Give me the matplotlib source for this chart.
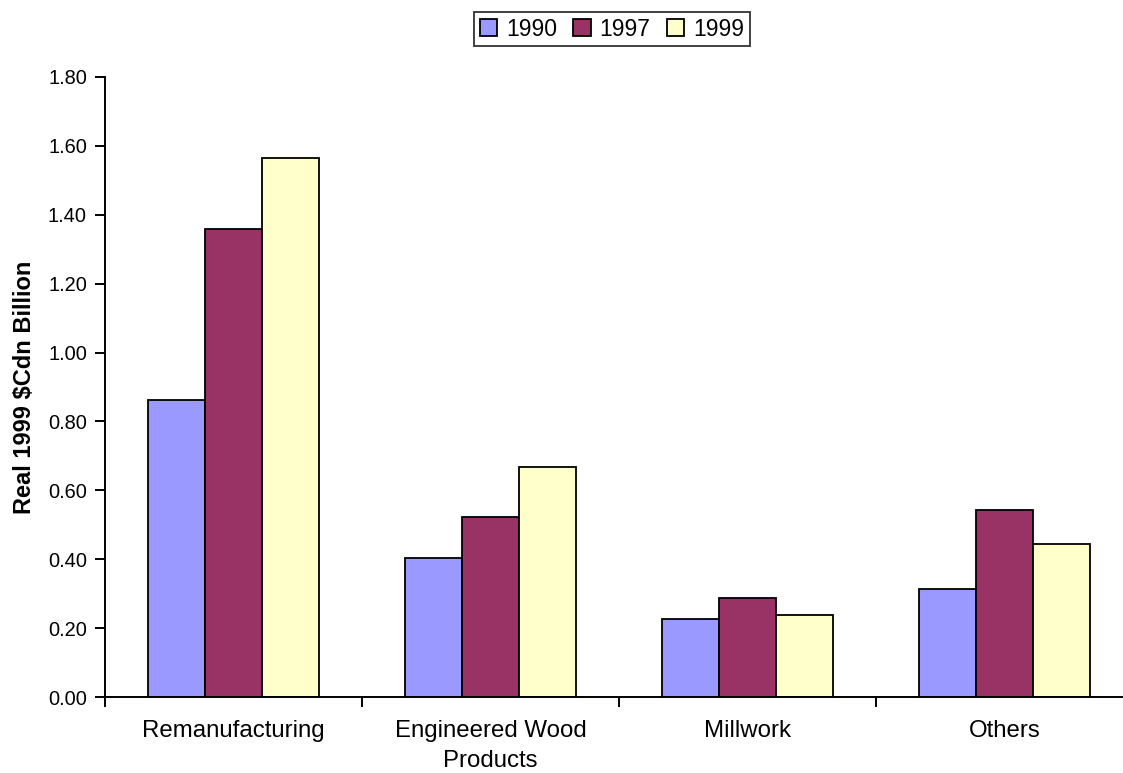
import numpy as np
import matplotlib.pyplot as plt
from matplotlib.ticker import FixedLocator, FormatStrFormatter, NullFormatter

plt.rcParams['font.family'] = ['Liberation Sans', 'DejaVu Sans']

categories = ["Remanufacturing", "Engineered Wood\nProducts", "Millwork", "Others"]
years = ["1990", "1997", "1999"]
v1990 = [0.862, 0.403, 0.228, 0.314]
v1997 = [1.357, 0.522, 0.288, 0.543]
v1999 = [1.563, 0.667, 0.239, 0.445]
colors = ["#9999FF", "#993366", "#FFFFCC"]

fig = plt.figure(figsize=(11.23, 7.73), dpi=100)
ax = fig.add_axes([105/1123, 75.7/773, 1028/1123, 620.6/773])

x = np.arange(len(categories))
w = 57/257
for i, (vals, c, lab) in enumerate(zip([v1990, v1997, v1999], colors, years)):
    ax.bar(x + (i - 1)*w, vals, w, color=c, edgecolor="black", linewidth=1.3, label=lab)

ax.set_xlim(-0.5, 3.5)
ax.set_ylim(0, 1.8)
ax.set_yticks(np.arange(0, 1.81, 0.2))
ax.yaxis.set_major_formatter(FormatStrFormatter("%.2f"))

# boundary ticks between groups, labels at group centres
ax.xaxis.set_major_locator(FixedLocator([-0.5, 0.5, 1.5, 2.5, 3.5]))
ax.xaxis.set_major_formatter(NullFormatter())
ax.xaxis.set_minor_locator(FixedLocator(x))
ax.set_xticklabels(categories, minor=True, fontsize=17.3, linespacing=1.5)
ax.tick_params(axis="x", which="major", direction="out", length=7, width=1.4)
ax.tick_params(axis="x", which="minor", length=0, pad=16)
ax.tick_params(axis="y", direction="out", length=7, width=1.4, labelsize=14.4, pad=6)

for s in ["top", "right"]:
    ax.spines[s].set_visible(False)
for s in ["left", "bottom"]:
    ax.spines[s].set_linewidth(1.4)

ax.set_ylabel("Real 1999 $Cdn Billion", fontsize=17, fontweight="bold")
ax.yaxis.set_label_coords(-0.067, 0.5)

leg = ax.legend(loc="center", bbox_to_anchor=(612/1123, 1 - 29/773), bbox_transform=fig.transFigure,
                ncol=3, fontsize=16.5, frameon=True, fancybox=False, handlelength=0.75, handleheight=0.75,
                handletextpad=0.4, columnspacing=0.7, borderpad=0.25, borderaxespad=0)
leg.get_frame().set_edgecolor("black")
leg.get_frame().set_linewidth(1.3)

plt.savefig("out.png", dpi=100)
